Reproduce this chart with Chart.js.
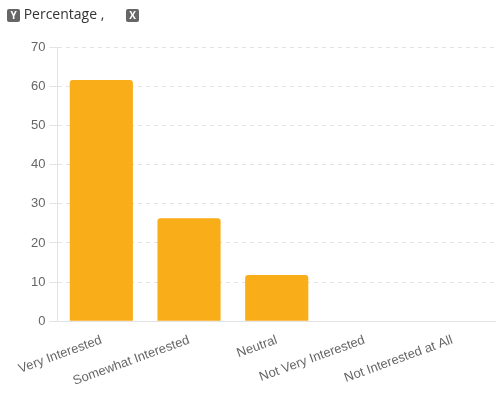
<!DOCTYPE html>
<html>
<head>
<meta charset="utf-8">
<script src="https://cdn.jsdelivr.net/npm/chart.js@4"></script>
<style>
  body { margin: 0; background: #fff; font-family: "Liberation Sans", Arial, sans-serif; }
  #wrap { position: relative; width: 496px; height: 396px; }
  #legend { position: absolute; left: 7px; top: 4px; font-size: 14px; color: #333; font-family: "Open Sans", "Noto Sans", sans-serif; }
  .tag { display: inline-block; width: 13px; height: 13px; background: #666; color: #fff; font-size: 10px; line-height: 13px; text-align: center; border-radius: 2px; vertical-align: 0px; font-weight: bold; }
</style>
</head>
<body>
<div id="wrap">
  <canvas id="myChart" width="496" height="396"></canvas>
  <div id="legend"><span class="tag">Y</span> Percentage ,&nbsp;&nbsp;&nbsp;&nbsp;&nbsp;&nbsp;<span class="tag">X</span></div>
</div>
<script>
var categories = ["Very Interested", "Somewhat Interested", "Neutral", "Not Very Interested", "Not Interested at All"];
var percentages = [61.6, 26.3, 11.8, 0, 0];
var yTicks = [0, 10, 20, 30, 40, 50, 60, 70];

var ctx = document.getElementById("myChart").getContext("2d");
var chart = new Chart(ctx, {
    type: "bar",
    data: {
        labels: categories,
        datasets: [{
            label: "Percentage",
            data: percentages,
            backgroundColor: "#f9ad18",
            borderRadius: { topLeft: 3, topRight: 3 },
            borderSkipped: "bottom",
            barPercentage: 0.72,
            categoryPercentage: 1
        }]
    },
    options: {
        responsive: false,
        animation: false,
        layout: { padding: { top: 47, left: 27, right: 0, bottom: 4 } },
        plugins: { legend: { display: false }, tooltip: { enabled: false } },
        scales: {
            x: {
                grid: { display: false },
                border: { display: true, color: "#e3e3e3" },
                ticks: {
                    color: "#666",
                    font: { family: "Liberation Sans", size: 13 },
                    minRotation: 20,
                    maxRotation: 20,
                    autoSkip: false
                }
            },
            y: {
                min: 0,
                max: 70,
                afterBuildTicks: function (axis) {
                    axis.ticks = yTicks.map(function (v) { return { value: v }; });
                },
                grid: { color: "#e3e3e3", tickLength: 8 },
                border: { display: true, color: "#e3e3e3", dash: [4, 4] },
                ticks: {
                    color: "#666",
                    font: { family: "Liberation Sans", size: 13 },
                    padding: 4
                }
            }
        }
    }
});
</script>
</body>
</html>
